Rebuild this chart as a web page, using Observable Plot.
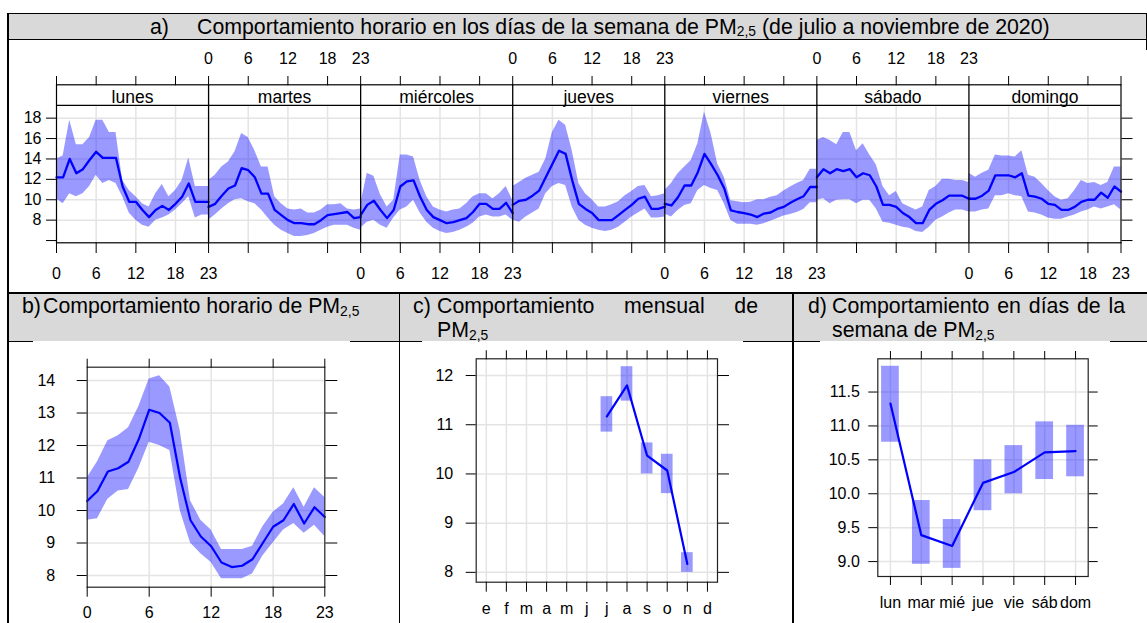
<!DOCTYPE html>
<html><head><meta charset="utf-8">
<script src="https://cdn.jsdelivr.net/npm/d3@7"></script>
<script src="https://cdn.jsdelivr.net/npm/@observablehq/plot@0.6"></script>
<style>
body{margin:0;background:#fff;}
#page{position:relative;width:1147px;height:623px;overflow:hidden;background:#fff;font-family:'Liberation Sans',Arial,sans-serif;color:#000;}
.ln{position:absolute;background:#000;}
.grey{position:absolute;background:#d9d9d9;}
.t{position:absolute;font-size:21.3px;line-height:24px;white-space:nowrap;}
.sub{font-size:65%;position:relative;top:0.2em;}
.pan{position:absolute;}
.just{text-align:justify;text-align-last:justify;white-space:normal;}
</style></head><body><div id="page">
<div class="grey" style="left:8px;top:14px;width:1139px;height:25px"></div>
<div class="grey" style="left:8px;top:293px;width:1139px;height:48px"></div>
<div class="ln" style="left:7px;top:12.5px;width:1140px;height:1.5px"></div>
<div class="ln" style="left:7px;top:39px;width:1140px;height:1px"></div>
<div class="ln" style="left:7px;top:12.5px;width:1.5px;height:611px"></div>
<div class="ln" style="left:1145.5px;top:12.5px;width:1.5px;height:38px"></div>
<div class="ln" style="left:7px;top:292px;width:1140px;height:1.5px"></div>
<div class="ln" style="left:7px;top:341px;width:1140px;height:1px"></div>
<div class="ln" style="left:398.5px;top:292px;width:1.5px;height:331px"></div>
<div class="ln" style="left:792px;top:292px;width:1.5px;height:331px"></div>

<div id="pa" class="pan" style="left:9px;top:50px"></div>
<div id="pb" class="pan" style="left:33px;top:341px"></div>
<div id="pc" class="pan" style="left:422px;top:341px"></div>
<div id="pd" class="pan" style="left:820px;top:341px"></div>

<div class="t" style="left:150px;top:14.5px">a)</div>
<div class="t" style="left:197px;top:14.5px">Comportamiento horario en los días de la semana de PM<span class="sub">2,5</span> (de julio a noviembre de 2020)</div>

<div class="t" style="left:22px;top:294px">b)</div>
<div class="t" style="left:43px;top:294px">Comportamiento horario de PM<span class="sub">2,5</span></div>

<div class="t" style="left:413px;top:294px">c)</div>
<div class="t" style="left:437px;top:294px;width:321px">
  <div class="just">Comportamiento mensual de</div>
  <div>PM<span class="sub">2,5</span></div>
</div>

<div class="t" style="left:808px;top:294px">d)</div>
<div class="t" style="left:832px;top:294px;width:293px">
  <div class="just">Comportamiento en días de la</div>
  <div>semana de PM<span class="sub">2,5</span></div>
</div>
</div>
<script>
// ---------- data: panel a (hourly by weekday) ----------
const days = ["lunes","martes","miércoles","jueves","viernes","sábado","domingo"];
const hours = [0,1,2,3,4,5,6,7,8,9,10,11,12,13,14,15,16,17,18,19,20,21,22,23];
const hourTicks = [0,6,12,18,23];

const mean_lunes = [12.2,12.2,14.0,12.6,13.0,13.9,14.7,14.1,14.1,14.1,11.3,9.8,9.8,9.0,8.3,9.0,9.4,9.0,9.6,10.3,11.6,9.8,9.8,9.8];
const hi_lunes   = [14.0,14.3,17.8,15.4,15.4,16.1,17.8,17.8,16.6,16.6,11.9,10.9,10.3,9.6,9.3,10.6,11.5,10.3,10.9,11.9,14.1,11.3,11.3,11.3];
const lo_lunes   = [10.1,9.6,10.6,10.3,10.6,11.3,12.4,11.6,11.9,11.6,10.3,8.7,8.0,7.5,7.3,8.0,8.2,8.5,9.0,9.6,10.3,8.2,8.5,8.5];

const mean_martes = [9.3,9.6,10.4,11.1,11.4,13.1,12.9,12.2,10.6,10.6,9.0,8.5,8.0,7.7,7.7,7.6,7.6,8.0,8.5,8.6,8.7,8.8,8.2,8.3];
const hi_martes   = [11.9,12.4,13.2,13.7,14.7,16.5,16.1,14.8,13.2,13.2,10.3,9.6,9.1,9.0,9.1,8.7,8.7,9.0,9.5,9.5,9.6,9.1,9.0,9.1];
const lo_martes   = [8.0,8.5,9.1,9.6,10.0,10.1,9.8,9.6,9.0,8.2,7.5,7.0,6.7,6.4,6.4,6.5,6.7,7.0,7.3,7.5,7.5,7.5,7.2,7.0];

const mean_miercoles = [8.5,9.5,9.9,9.0,8.2,9.0,11.3,11.8,11.9,10.3,9.0,8.3,8.0,7.7,7.8,8.0,8.2,8.8,9.6,9.6,9.1,9.1,9.7,8.7];
const hi_miercoles   = [9.5,12.6,12.3,10.5,9.3,9.95,14.4,14.4,14.2,11.9,10.3,9.3,9.0,8.8,9.0,9.1,9.6,10.3,10.6,10.6,10.1,10.6,11.3,9.95];
const lo_miercoles   = [7.2,7.8,8.0,7.5,7.2,8.2,9.0,9.3,9.95,8.7,7.8,7.2,6.9,6.7,6.8,7.0,7.3,7.7,8.3,8.5,8.3,8.3,8.5,8.0];

const mean_jueves = [9.5,9.9,10.0,10.4,10.9,12.2,13.5,14.8,14.5,11.9,9.6,9.1,8.7,8.0,8.0,8.0,8.5,9.0,9.5,10.1,10.3,9.1,9.1,9.3];
const hi_jueves   = [11.3,11.7,12.1,12.4,12.7,14.0,16.6,17.8,17.3,14.8,11.6,10.6,10.0,9.3,9.3,9.5,9.8,10.4,10.8,11.3,11.4,10.3,10.4,10.6];
const lo_jueves   = [8.0,7.8,8.3,8.7,9.1,10.6,11.3,11.6,11.4,9.3,8.0,7.5,7.2,7.0,6.9,7.0,7.3,7.8,8.3,8.7,9.1,8.2,8.2,8.3];

const mean_viernes = [9.6,9.44,10.25,11.4,11.4,12.7,14.5,13.5,12.4,11.1,8.95,8.8,8.7,8.55,8.3,8.65,8.75,9.1,9.3,9.7,10.05,10.35,11.25,11.25];
const hi_viernes   = [10.9,11.6,12.55,13.2,13.85,15.5,18.6,16.5,13.5,12.2,9.9,9.8,9.7,9.75,10.0,10.0,10.25,10.4,10.85,11.25,11.6,11.9,13.0,13.0];
const lo_viernes   = [8.6,8.3,8.95,9.44,9.6,10.9,11.4,11.1,10.9,9.6,7.97,7.6,7.6,7.6,7.5,7.65,7.9,8.15,8.4,8.55,8.75,9.05,9.7,9.7];

const mean_sabado = [12.2,13.0,12.6,13.0,12.8,13.0,12.2,12.6,12.4,11.3,9.5,9.5,9.3,8.7,8.3,7.7,7.7,9.0,9.6,9.95,10.4,10.4,10.4,10.1];
const hi_sabado   = [15.8,16.1,15.8,15.4,16.6,16.6,14.8,15.5,14.4,13.4,11.3,10.4,10.8,9.6,9.3,9.0,9.3,10.9,11.3,12.0,12.0,11.9,11.9,11.7];
const lo_sabado   = [9.95,10.1,9.6,9.95,10.0,10.0,9.6,9.95,9.95,9.1,7.8,7.7,7.5,7.3,7.2,6.9,6.8,7.3,8.0,8.3,8.7,9.0,9.0,8.8];

const mean_domingo = [10.1,10.1,10.4,10.9,12.4,12.4,12.4,12.2,12.6,10.4,10.3,10.1,9.6,9.5,9.0,9.0,9.3,9.8,10.0,10.0,10.7,10.2,11.3,10.8];
const hi_domingo   = [12.6,12.2,12.6,12.9,14.4,14.3,14.3,14.2,14.8,12.4,12.2,11.6,10.9,10.3,9.95,10.1,10.9,11.9,11.6,11.7,11.4,11.7,13.2,13.2];
const lo_domingo   = [8.8,8.8,9.0,9.1,10.4,10.4,10.6,10.4,10.3,8.8,8.7,8.5,8.2,8.1,8.1,8.3,8.5,8.8,9.0,9.3,9.1,9.3,9.5,9.0];

// ---------- data: panel b (hourly) ----------
const mean_hora = [10.29,10.6,11.2,11.3,11.5,12.2,13.1,13.0,12.7,11.0,9.7,9.2,8.9,8.4,8.26,8.3,8.5,9.0,9.5,9.7,10.2,9.6,10.1,9.8];
const hi_hora   = [11.0,11.5,12.15,12.3,12.55,13.2,14.05,14.15,13.8,12.46,10.3,9.7,9.4,8.8,8.8,8.8,8.9,9.5,9.95,10.2,10.7,10.1,10.7,10.4];
const lo_hora   = [9.7,9.75,10.35,10.6,10.65,11.3,12.1,12.0,11.85,10.0,9.0,8.67,8.4,7.9,7.9,7.9,8.05,8.6,9.0,9.4,9.6,9.3,9.55,9.2];

// ---------- data: panel c (monthly) ----------
const monthLabels = ["e","f","m","a","m","j","j","a","s","o","n","d"];
const monthNums = [1,2,3,4,5,6,7,8,9,10,11,12];
const monthsObs = [7,8,9,10,11];
const mean_mes = [11.17,11.8,10.37,10.07,8.17];
const lo_mes   = [10.85,11.48,10.0,9.6,8.0];
const hi_mes   = [11.57,12.18,10.63,10.4,8.4];

// ---------- data: panel d (weekday) ----------
const dayShort = ["lun","mar","mié","jue","vie","sáb","dom"];
const dayNums = [1,2,3,4,5,6,7];
const mean_dia = [11.33,9.39,9.23,10.16,10.32,10.61,10.63];
const lo_dia   = [10.76,8.96,8.9,9.75,10.0,10.21,10.25];
const hi_dia   = [11.88,9.9,9.62,10.5,10.71,11.06,11.01];

// ---------- build ----------
const FONT = "'Liberation Sans', Arial, sans-serif";
const GRID = "#e4e4e4";
const BAND = "blue";
const TF = 16; // tick label font size
const baseStyle = {fontFamily: FONT, fontSize: "16px", color: "black", background: "white", overflow: "visible"};

// panel a
const dayMean = [mean_lunes,mean_martes,mean_miercoles,mean_jueves,mean_viernes,mean_sabado,mean_domingo];
const dayHi = [hi_lunes,hi_martes,hi_miercoles,hi_jueves,hi_viernes,hi_sabado,hi_domingo];
const dayLo = [lo_lunes,lo_martes,lo_miercoles,lo_jueves,lo_viernes,lo_sabado,lo_domingo];
const SPAN = 23;
const rowsA = days.flatMap((d, i) => hours.map((h, j) => ({day: d, x: i * SPAN + h, mean: dayMean[i][j], lo: dayLo[i][j], hi: dayHi[i][j]})));
const ticksA = Array.from(new Set(days.flatMap((d, i) => hourTicks.map(h => i * SPAN + h))));
const gridXA = days.flatMap((d, i) => [6, 12, 18].map(h => i * SPAN + h));
const boundsA = days.slice(1).map((d, i) => (i + 1) * SPAN);
const labelFor = (x, parity) => {
  for (let i = parity; i < days.length; i += 2) {
    if (x >= i * SPAN && x <= i * SPAN + SPAN) return String(x - i * SPAN);
  }
  return "";
};
const yBot = 5.78, yPanTop = 19.25, yStripTop = 21.27;
const xMax = days.length * SPAN;

const plotA = Plot.plot({
  width: 1138, height: 241,
  marginLeft: 47, marginRight: 26.5, marginTop: 34.3, marginBottom: 48.7,
  x: {domain: [0, xMax]},
  y: {domain: [yBot, yStripTop]},
  style: baseStyle,
  marks: [
    Plot.ruleY([8, 10, 12, 14, 16, 18], {stroke: GRID, strokeWidth: 1.5}),
    Plot.ruleX(gridXA, {y1: yBot, y2: yPanTop, stroke: GRID, strokeWidth: 1.5}),
    Plot.areaY(rowsA, {x: "x", y1: "lo", y2: "hi", z: "day", fill: BAND, fillOpacity: 0.4}),
    Plot.lineY(rowsA, {x: "x", y: "mean", z: "day", stroke: "blue", strokeWidth: 2.3}),
    Plot.ruleX(boundsA, {y1: yBot, y2: yStripTop, stroke: "black", strokeWidth: 1.3}),
    Plot.ruleY([yPanTop], {stroke: "black", strokeWidth: 1.2}),
    Plot.text(days, {x: (d, i) => i * SPAN + SPAN / 2, y: 20.08, text: d => d, fontSize: 17.5, fill: "black"}),
    Plot.frame({stroke: "black", strokeWidth: 1.2}),
    Plot.axisY({anchor: "left", ticks: [6, 8, 10, 12, 14, 16, 18], tickFormat: d => d === 6 ? "" : String(d), tickSize: 10, tickPadding: 5, fontSize: TF, label: null}),
    Plot.axisY({anchor: "right", ticks: [6, 8, 10, 12, 14, 16, 18], tickFormat: () => "", tickSize: 11, label: null}),
    Plot.axisX({anchor: "top", ticks: ticksA, tickFormat: x => labelFor(x, 1), tickSize: 9.3, tickPadding: 12, fontSize: TF, label: null}),
    Plot.axisX({anchor: "bottom", ticks: ticksA, tickFormat: x => labelFor(x, 0), tickSize: 10.7, tickPadding: 14, fontSize: TF, label: null})
  ]
});
document.getElementById("pa").appendChild(plotA);

// panel b
const rowsB = hours.map((h, j) => ({h, mean: mean_hora[j], lo: lo_hora[j], hi: hi_hora[j]}));
const plotB = Plot.plot({
  width: 317, height: 282,
  marginLeft: 53.7, marginRight: 25.7, marginTop: 25.7, marginBottom: 36.3,
  x: {domain: [0, 23]},
  y: {domain: [7.64, 14.41]},
  style: baseStyle,
  marks: [
    Plot.ruleY([8, 9, 10, 11, 12, 13, 14], {stroke: GRID, strokeWidth: 1.5}),
    Plot.ruleX([6, 12, 18], {stroke: GRID, strokeWidth: 1.5}),
    Plot.areaY(rowsB, {x: "h", y1: "lo", y2: "hi", fill: BAND, fillOpacity: 0.4}),
    Plot.lineY(rowsB, {x: "h", y: "mean", stroke: "blue", strokeWidth: 2.2}),
    Plot.frame({stroke: "#222", strokeWidth: 1.2}),
    Plot.axisY({anchor: "left", ticks: [8, 9, 10, 11, 12, 13, 14], tickFormat: d => String(d), tickSize: 10, tickPadding: 22, fontSize: TF, label: null}),
    Plot.axisY({anchor: "right", ticks: [8, 9, 10, 11, 12, 13, 14], tickFormat: () => "", tickSize: 12, label: null}),
    Plot.axisX({anchor: "top", ticks: hourTicks, tickFormat: () => "", tickSize: 9, label: null}),
    Plot.axisX({anchor: "bottom", ticks: hourTicks, tickFormat: d => String(d), tickSize: 10, tickPadding: 9, fontSize: TF, label: null})
  ]
});
document.getElementById("pb").appendChild(plotB);

// panel c
const rowsC = monthsObs.map((m, j) => ({m, mean: mean_mes[j], lo: lo_mes[j], hi: hi_mes[j]}));
const plotC = Plot.plot({
  width: 321, height: 282,
  marginLeft: 53.7, marginRight: 26, marginTop: 17.3, marginBottom: 41.3,
  x: {domain: [0.5, 12.5]},
  y: {domain: [7.8, 12.34]},
  style: baseStyle,
  marks: [
    Plot.ruleY([8, 9, 10, 11, 12], {stroke: GRID, strokeWidth: 1.5}),
    Plot.ruleX(monthNums, {stroke: GRID, strokeWidth: 1.5}),
    Plot.rect(rowsC, {x1: d => d.m - 0.29, x2: d => d.m + 0.29, y1: "lo", y2: "hi", fill: BAND, fillOpacity: 0.4}),
    Plot.line(rowsC, {x: "m", y: "mean", stroke: "blue", strokeWidth: 2.2}),
    Plot.frame({stroke: "#222", strokeWidth: 1.2}),
    Plot.axisY({anchor: "left", ticks: [8, 9, 10, 11, 12], tickFormat: d => String(d), tickSize: 10, tickPadding: 13, fontSize: TF, label: null}),
    Plot.axisY({anchor: "right", ticks: [8, 9, 10, 11, 12], tickFormat: () => "", tickSize: 11, label: null}),
    Plot.axisX({anchor: "top", ticks: monthNums, tickFormat: () => "", tickSize: 9, label: null}),
    Plot.axisX({anchor: "bottom", ticks: monthNums, tickFormat: m => monthLabels[m - 1], tickSize: 10, tickPadding: 10, fontSize: TF, label: null})
  ]
});
document.getElementById("pc").appendChild(plotC);

// panel d
const rowsD = dayNums.map((k, j) => ({k, mean: mean_dia[j], lo: lo_dia[j], hi: hi_dia[j]}));
const plotD = Plot.plot({
  width: 290, height: 282,
  marginLeft: 57.3, marginRight: 22.3, marginTop: 17.3, marginBottom: 47,
  x: {domain: [0.59, 7.41]},
  y: {domain: [8.78, 11.99]},
  style: baseStyle,
  marks: [
    Plot.ruleY([9, 9.5, 10, 10.5, 11, 11.5], {stroke: GRID, strokeWidth: 1.5}),
    Plot.ruleX(dayNums, {stroke: GRID, strokeWidth: 1.5}),
    Plot.rect(rowsD, {x1: d => d.k - 0.287, x2: d => d.k + 0.287, y1: "lo", y2: "hi", fill: BAND, fillOpacity: 0.4}),
    Plot.line(rowsD, {x: "k", y: "mean", stroke: "blue", strokeWidth: 2.2}),
    Plot.frame({stroke: "#222", strokeWidth: 1.2}),
    Plot.axisY({anchor: "left", ticks: [9, 9.5, 10, 10.5, 11, 11.5], tickFormat: d => d.toFixed(1), tickSize: 9, tickPadding: 9, fontSize: TF, label: null}),
    Plot.axisY({anchor: "right", ticks: [9, 9.5, 10, 10.5, 11, 11.5], tickFormat: () => "", tickSize: 9, label: null}),
    Plot.axisX({anchor: "top", ticks: dayNums, tickFormat: () => "", tickSize: 8.3, label: null}),
    Plot.axisX({anchor: "bottom", ticks: dayNums, tickFormat: k => dayShort[k - 1], tickSize: 9, tickPadding: 11, fontSize: TF, label: null})
  ]
});
document.getElementById("pd").appendChild(plotD);
</script></body></html>
